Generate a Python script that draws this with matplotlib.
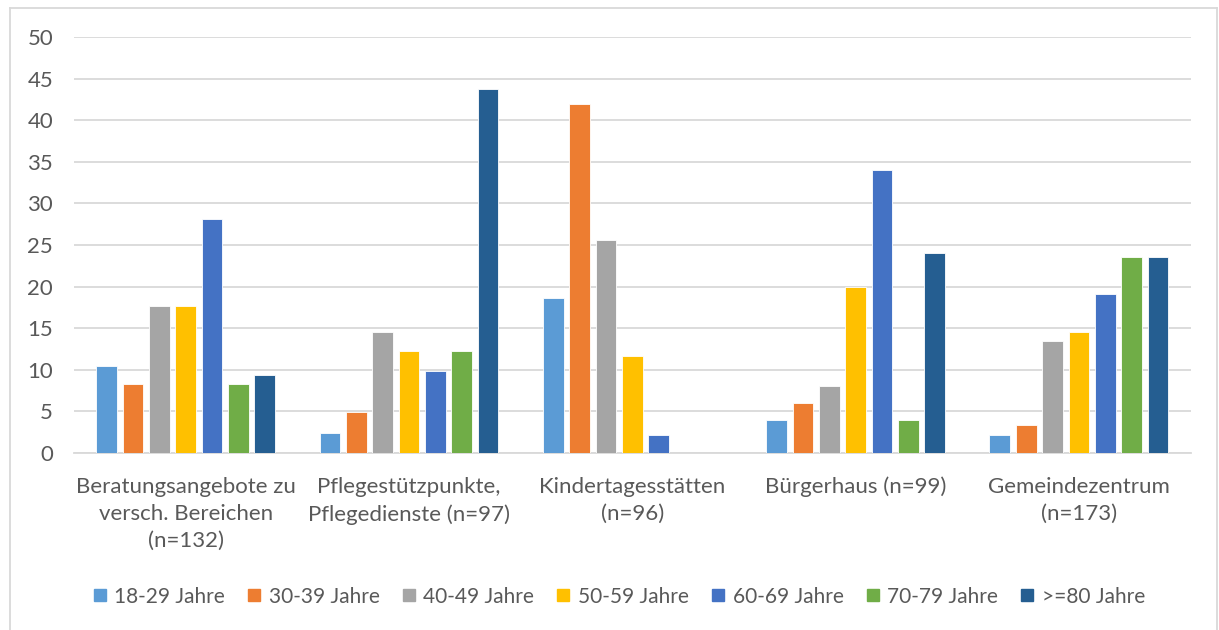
import matplotlib.pyplot as plt
import numpy as np
from matplotlib.lines import Line2D

# Kategorien und Werte (Prozent je Altersgruppe)
categories = [
    "Beratungsangebote zu\nversch. Bereichen\n(n=132)",
    "Pflegestützpunkte,\nPflegedienste (n=97)",
    "Kindertagesstätten\n(n=96)",
    "Bürgerhaus (n=99)",
    "Gemeindezentrum\n(n=173)",
]
age_groups = ["18-29 Jahre", "30-39 Jahre", "40-49 Jahre", "50-59 Jahre",
              "60-69 Jahre", "70-79 Jahre", ">=80 Jahre"]

v_18_29 = [10.4, 2.4, 18.6, 4.0, 2.1]
v_30_39 = [8.3, 4.9, 41.9, 6.0, 3.4]
v_40_49 = [17.7, 14.6, 25.6, 8.0, 13.5]
v_50_59 = [17.7, 12.2, 11.6, 20.0, 14.6]
v_60_69 = [28.1, 9.9, 2.2, 34.0, 19.1]
v_70_79 = [8.3, 12.2, 0.0, 4.0, 23.6]
v_80 = [9.4, 43.8, 0.0, 24.0, 23.6]

series = [v_18_29, v_30_39, v_40_49, v_50_59, v_60_69, v_70_79, v_80]
colors = ["#5B9BD5", "#ED7D31", "#A5A5A5", "#FFC000", "#4472C4", "#70AD47", "#255E91"]

plt.rcParams["font.family"] = ["Lato", "DejaVu Sans"]
text_color = "#595959"
grid_color = "#D9D9D9"

fig = plt.figure(figsize=(12.19, 6.3), dpi=100)
ax = fig.add_axes([0.0607, 0.281, 0.916, 0.6603])

x = np.arange(len(categories))
step = 0.118
width = 0.093
for i, (vals, col) in enumerate(zip(series, colors)):
    offset = (i - 3) * step
    ax.bar(x + offset, vals, width=width, color=col, edgecolor="white",
           linewidth=0.6, zorder=3)

ax.set_xlim(-0.5, len(categories) - 0.5)
ax.set_ylim(0, 50)
ax.set_yticks(range(0, 51, 5))
ax.set_xticks(x)
ax.set_xticklabels(categories, fontsize=16, color=text_color, linespacing=1.45)
ax.tick_params(axis="y", length=0, pad=15, labelsize=16, labelcolor=text_color)
ax.tick_params(axis="x", length=0, pad=17)
ax.grid(axis="y", color=grid_color, linewidth=1.3, zorder=0)
for side in ["top", "right", "left"]:
    ax.spines[side].set_visible(False)
ax.spines["bottom"].set_color(grid_color)
ax.spines["bottom"].set_linewidth(1.3)

# Legende
handles = [Line2D([], [], marker="s", linestyle="none", markersize=9,
                  markerfacecolor=c, markeredgecolor=c) for c in colors]
fig.legend(handles, age_groups, loc="center", bbox_to_anchor=(0.508, 0.053),
           ncol=7, frameon=False, fontsize=15, labelcolor=text_color,
           handlelength=0.6, handletextpad=0.4, columnspacing=1.1)

# Rahmen um das Diagramm
frame = dict(color="#D9D9D9", linewidth=1.3, transform=fig.transFigure)
fig.add_artist(Line2D([10 / 1219, 10 / 1219], [0, 1 - 8 / 630], **frame))
fig.add_artist(Line2D([10 / 1219, 1217 / 1219], [1 - 8 / 630, 1 - 8 / 630], **frame))
fig.add_artist(Line2D([1217 / 1219, 1217 / 1219], [0, 1 - 8 / 630], **frame))

fig.savefig("out.png", dpi=100)
